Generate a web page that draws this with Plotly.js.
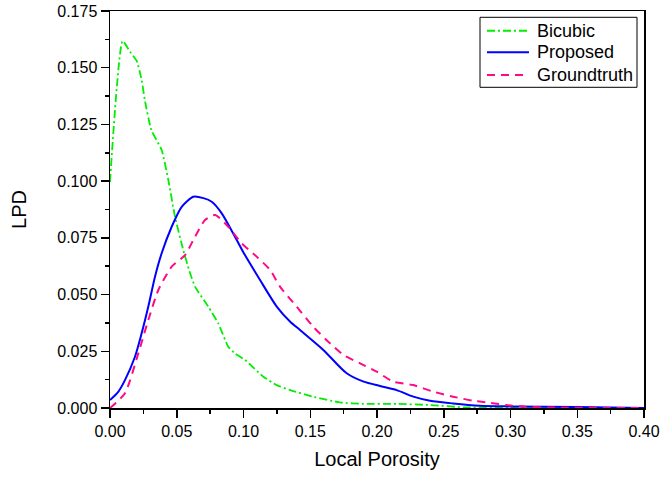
<!DOCTYPE html>
<html>
<head>
<meta charset="utf-8">
<script src="https://cdn.plot.ly/plotly-3.0.1.min.js"></script>
<style>html,body{margin:0;padding:0;background:#fff}#chart{width:661px;height:478px}</style>
</head>
<body>
<div id="chart"></div>
<script>
var bicubicX = [0, 0.0095, 0.015, 0.02, 0.0237, 0.026, 0.031, 0.0387, 0.0437, 0.0487, 0.0549, 0.06, 0.0637, 0.0736, 0.0811, 0.0886, 0.0936, 0.1011, 0.1149, 0.1249, 0.135, 0.152, 0.172, 0.19, 0.215, 0.24, 0.265, 0.3, 0.4];
var bicubicY = [0.0996, 0.1618, 0.157, 0.153, 0.1446, 0.136, 0.1225, 0.1137, 0.1005, 0.0843, 0.0696, 0.0594, 0.0535, 0.0447, 0.0373, 0.027, 0.0241, 0.0212, 0.0138, 0.0101, 0.0079, 0.005, 0.0025, 0.0018, 0.0018, 0.0013, 0.0003, 0, 0];

var proposedX = [0, 0.006, 0.0112, 0.0187, 0.0237, 0.0287, 0.0337, 0.0387, 0.0462, 0.0537, 0.0624, 0.07, 0.0762, 0.0837, 0.0936, 0.1011, 0.1124, 0.1249, 0.135, 0.1423, 0.1598, 0.1773, 0.19, 0.2022, 0.2147, 0.2272, 0.2397, 0.257, 0.277, 0.3, 0.35, 0.4];
var proposedY = [0.0035, 0.007, 0.0123, 0.0226, 0.0329, 0.0447, 0.0579, 0.0682, 0.0799, 0.0887, 0.0931, 0.0925, 0.0909, 0.0858, 0.0755, 0.0674, 0.0564, 0.0447, 0.038, 0.0344, 0.0256, 0.0153, 0.0116, 0.0097, 0.0079, 0.005, 0.0032, 0.002, 0.001, 0.0007, 0.0004, 0];

var truthX = [0, 0.0112, 0.0212, 0.0287, 0.0362, 0.0462, 0.0562, 0.0637, 0.0712, 0.0787, 0.0886, 0.0986, 0.1099, 0.12, 0.1273, 0.1398, 0.1523, 0.1648, 0.1748, 0.1873, 0.1998, 0.2122, 0.2272, 0.2422, 0.257, 0.272, 0.282, 0.297, 0.312, 0.33, 0.4];
var truthY = [0, 0.0065, 0.0241, 0.0388, 0.052, 0.0623, 0.0674, 0.0755, 0.0829, 0.0851, 0.0799, 0.0726, 0.0667, 0.0608, 0.0535, 0.0447, 0.0358, 0.0285, 0.0234, 0.0197, 0.016, 0.0116, 0.0101, 0.0072, 0.005, 0.0032, 0.0025, 0.0013, 0.0006, 0.0002, 0];

var seriesNames = ['Bicubic', 'Proposed', 'Groundtruth'];
var seriesColors = ['#00ee00', '#0000ff', '#ff0a84'];
var seriesDash = ['8px,3px,2px,3px', 'solid', '8px,6px'];

var font = 'Liberation Sans, Arial, sans-serif';
var traces = [
  {x: bicubicX, y: bicubicY, name: seriesNames[0], mode: 'lines', type: 'scatter',
   line: {color: seriesColors[0], width: 1.8, dash: seriesDash[0], shape: 'spline', smoothing: 0.5}},
  {x: proposedX, y: proposedY, name: seriesNames[1], mode: 'lines', type: 'scatter',
   line: {color: seriesColors[1], width: 2, dash: seriesDash[1], shape: 'spline', smoothing: 0.7}},
  {x: truthX, y: truthY, name: seriesNames[2], mode: 'lines', type: 'scatter',
   line: {color: seriesColors[2], width: 2, dash: seriesDash[2], shape: 'spline', smoothing: 0.6}}
];

// legend box drawn in paper coordinates
var legRows = [0.9504, 0.8960, 0.8388];
var shapes = [{type: 'rect', xref: 'paper', yref: 'paper', x0: 0.6929, x1: 0.9869, y0: 0.8078, y1: 0.9841,
  line: {color: '#000', width: 1}, fillcolor: '#fff', layer: 'above'}];
var annotations = [];
for (var i = 0; i < seriesNames.length; i++) {
  shapes.push({type: 'line', xref: 'paper', yref: 'paper', x0: 0.706, x1: 0.7846, y0: legRows[i], y1: legRows[i],
    line: {color: seriesColors[i], width: 2, dash: seriesDash[i]}, layer: 'above'});
  annotations.push({xref: 'paper', yref: 'paper', x: 0.7959, y: legRows[i], xanchor: 'left', yanchor: 'middle',
    text: seriesNames[i], showarrow: false, font: {size: 18, family: font, color: '#000'}});
}

var layout = {
  width: 661, height: 478,
  margin: {l: 110, r: 17, t: 11, b: 70},
  paper_bgcolor: '#fff', plot_bgcolor: '#fff',
  font: {family: font, color: '#000', size: 16},
  showlegend: false,
  shapes: shapes,
  annotations: annotations,
  xaxis: {
    range: [0, 0.4], dtick: 0.05, tick0: 0, tickformat: '.2f',
    ticks: 'outside', ticklen: 8, tickwidth: 1.5, tickcolor: '#000',
    showline: true, linecolor: '#000', linewidth: 1.5, mirror: true,
    showgrid: false, zeroline: false,
    tickfont: {size: 16, family: font},
    minor: {dtick: 0.025, ticks: 'outside', ticklen: 4, tickwidth: 1.5, tickcolor: '#000', showgrid: false},
    title: {text: 'Local Porosity', font: {size: 20, family: font}, standoff: 13}
  },
  yaxis: {
    range: [0, 0.175], dtick: 0.025, tick0: 0, tickformat: '.3f',
    ticks: 'outside', ticklen: 8, tickwidth: 1.5, tickcolor: '#000',
    showline: true, linecolor: '#000', linewidth: 1.5, mirror: true,
    showgrid: false, zeroline: false,
    tickfont: {size: 16, family: font},
    minor: {dtick: 0.0125, ticks: 'outside', ticklen: 4, tickwidth: 1.5, tickcolor: '#000', showgrid: false},
    title: {text: 'LPD', font: {size: 20, family: font}, standoff: 25}
  }
};

Plotly.newPlot('chart', traces, layout, {displayModeBar: false, staticPlot: true});
</script>
</body>
</html>
